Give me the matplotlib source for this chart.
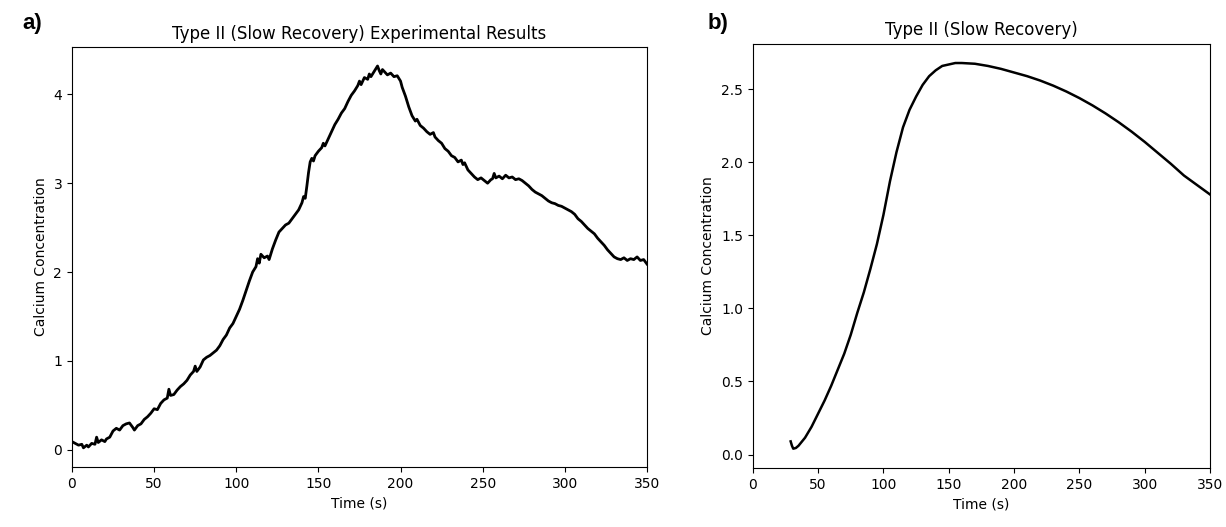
import matplotlib
matplotlib.use("Agg")
import matplotlib.pyplot as plt
import numpy as np

# experimental trace (panel a)
exp_time = [0, 2, 4, 6, 7, 9, 10, 12, 14, 15, 16, 18, 20, 21, 23, 25, 27, 29, 31, 33,
            35, 37, 38, 40, 42, 44, 46, 48, 50, 52, 54, 56, 58, 59, 60, 62, 64, 66, 68, 70,
            72, 74, 75, 76, 78, 80, 82, 84, 86, 88, 90, 92, 94, 96, 98, 100, 102, 104, 106, 108,
            110, 112, 113, 114, 115, 117, 119, 120, 122, 124, 126, 128, 130, 132, 134, 136, 138, 140, 141, 142,
            143, 144, 145, 146, 147, 148, 150, 152, 153, 154, 156, 158, 160, 162, 164, 166, 168, 170, 172, 174,
            175, 176, 178, 180, 181, 182, 184, 185, 186, 187, 188, 189, 190, 192, 194, 196, 198, 200, 201, 203,
            205, 207, 208, 209, 210, 212, 214, 216, 218, 220, 221, 223, 225, 227, 229, 231, 233, 235, 237, 238,
            239, 241, 243, 245, 247, 249, 251, 253, 255, 256, 257, 258, 260, 262, 264, 266, 268, 270, 272, 274,
            276, 278, 280, 282, 284, 286, 288, 290, 292, 294, 296, 298, 300, 302, 304, 306, 308, 310, 312, 314,
            316, 318, 320, 322, 324, 326, 328, 330, 332, 334, 336, 338, 340, 342, 344, 346, 348, 350]
exp_calcium = [0.09, 0.07, 0.05, 0.06, 0.02, 0.05, 0.03, 0.07, 0.06, 0.14, 0.08, 0.11, 0.09, 0.12, 0.14, 0.21, 0.24, 0.22, 0.27, 0.29,
               0.30, 0.25, 0.22, 0.27, 0.29, 0.34, 0.37, 0.41, 0.46, 0.45, 0.52, 0.56, 0.58, 0.68, 0.61, 0.62, 0.67, 0.71, 0.74, 0.78,
               0.84, 0.88, 0.94, 0.88, 0.93, 1.01, 1.04, 1.06, 1.09, 1.12, 1.17, 1.24, 1.29, 1.37, 1.42, 1.50, 1.58, 1.68, 1.79, 1.90,
               2.00, 2.06, 2.15, 2.10, 2.20, 2.16, 2.18, 2.14, 2.26, 2.36, 2.45, 2.49, 2.53, 2.55, 2.60, 2.65, 2.70, 2.78, 2.85, 2.83,
               2.97, 3.12, 3.24, 3.28, 3.25, 3.31, 3.36, 3.40, 3.45, 3.42, 3.50, 3.58, 3.66, 3.72, 3.79, 3.84, 3.92, 3.99, 4.04, 4.10,
               4.15, 4.11, 4.19, 4.17, 4.23, 4.20, 4.26, 4.29, 4.32, 4.27, 4.23, 4.28, 4.26, 4.22, 4.24, 4.20, 4.21, 4.15, 4.08, 3.98,
               3.86, 3.76, 3.73, 3.70, 3.72, 3.65, 3.62, 3.58, 3.55, 3.57, 3.52, 3.48, 3.45, 3.39, 3.36, 3.31, 3.29, 3.24, 3.26, 3.21,
               3.23, 3.15, 3.11, 3.07, 3.04, 3.06, 3.03, 3.00, 3.04, 3.05, 3.11, 3.06, 3.08, 3.05, 3.09, 3.06, 3.07, 3.04, 3.05, 3.03,
               3.00, 2.97, 2.93, 2.90, 2.88, 2.86, 2.83, 2.80, 2.78, 2.77, 2.75, 2.74, 2.72, 2.70, 2.68, 2.65, 2.60, 2.57, 2.53, 2.49,
               2.46, 2.43, 2.38, 2.34, 2.30, 2.25, 2.21, 2.17, 2.15, 2.14, 2.16, 2.13, 2.15, 2.14, 2.17, 2.13, 2.14, 2.09]

# model curve (panel b)
model_time = [29, 30, 31, 33, 35, 40, 45, 50, 55, 60, 65, 70, 75, 80, 85, 90, 95, 100, 105,
              110, 115, 120, 125, 130, 135, 140, 145, 150, 155, 160, 170, 180, 190, 200, 210,
              220, 230, 240, 250, 260, 270, 280, 290, 300, 310, 320, 330, 340, 350]
model_calcium = [0.09, 0.06, 0.04, 0.045, 0.06, 0.115, 0.19, 0.28, 0.37, 0.47, 0.58, 0.69, 0.82,
                 0.97, 1.11, 1.27, 1.44, 1.64, 1.87, 2.07, 2.24, 2.36, 2.45, 2.53, 2.59, 2.63,
                 2.66, 2.67, 2.68, 2.68, 2.675, 2.66, 2.64, 2.615, 2.59, 2.56, 2.525, 2.485,
                 2.44, 2.39, 2.335, 2.275, 2.21, 2.14, 2.065, 1.99, 1.91, 1.845, 1.78]

fig = plt.figure(figsize=(12.26, 5.27), dpi=100)
ax1 = fig.add_axes([0.0587, 0.114, 0.469, 0.797])
ax2 = fig.add_axes([0.614, 0.112, 0.373, 0.805])

ax1.plot(exp_time, exp_calcium, color='black', lw=2)
ax1.set_xlim(0, 350)
ax1.set_title('Type II (Slow Recovery) Experimental Results')
ax1.set_xlabel('Time (s)')
ax1.set_ylabel('Calcium Concentration')

ax2.plot(model_time, model_calcium, color='black', lw=1.8)
ax2.set_xlim(0, 350)
ax2.set_title('Type II (Slow Recovery)')
ax2.set_xlabel('Time (s)')
ax2.set_ylabel('Calcium Concentration')

fig.text(0.018, 0.945, 'a)', fontsize=16, fontweight='bold', family='Liberation Sans')
fig.text(0.577, 0.945, 'b)', fontsize=16, fontweight='bold', family='Liberation Sans')

fig.savefig('out.png', dpi=100)
